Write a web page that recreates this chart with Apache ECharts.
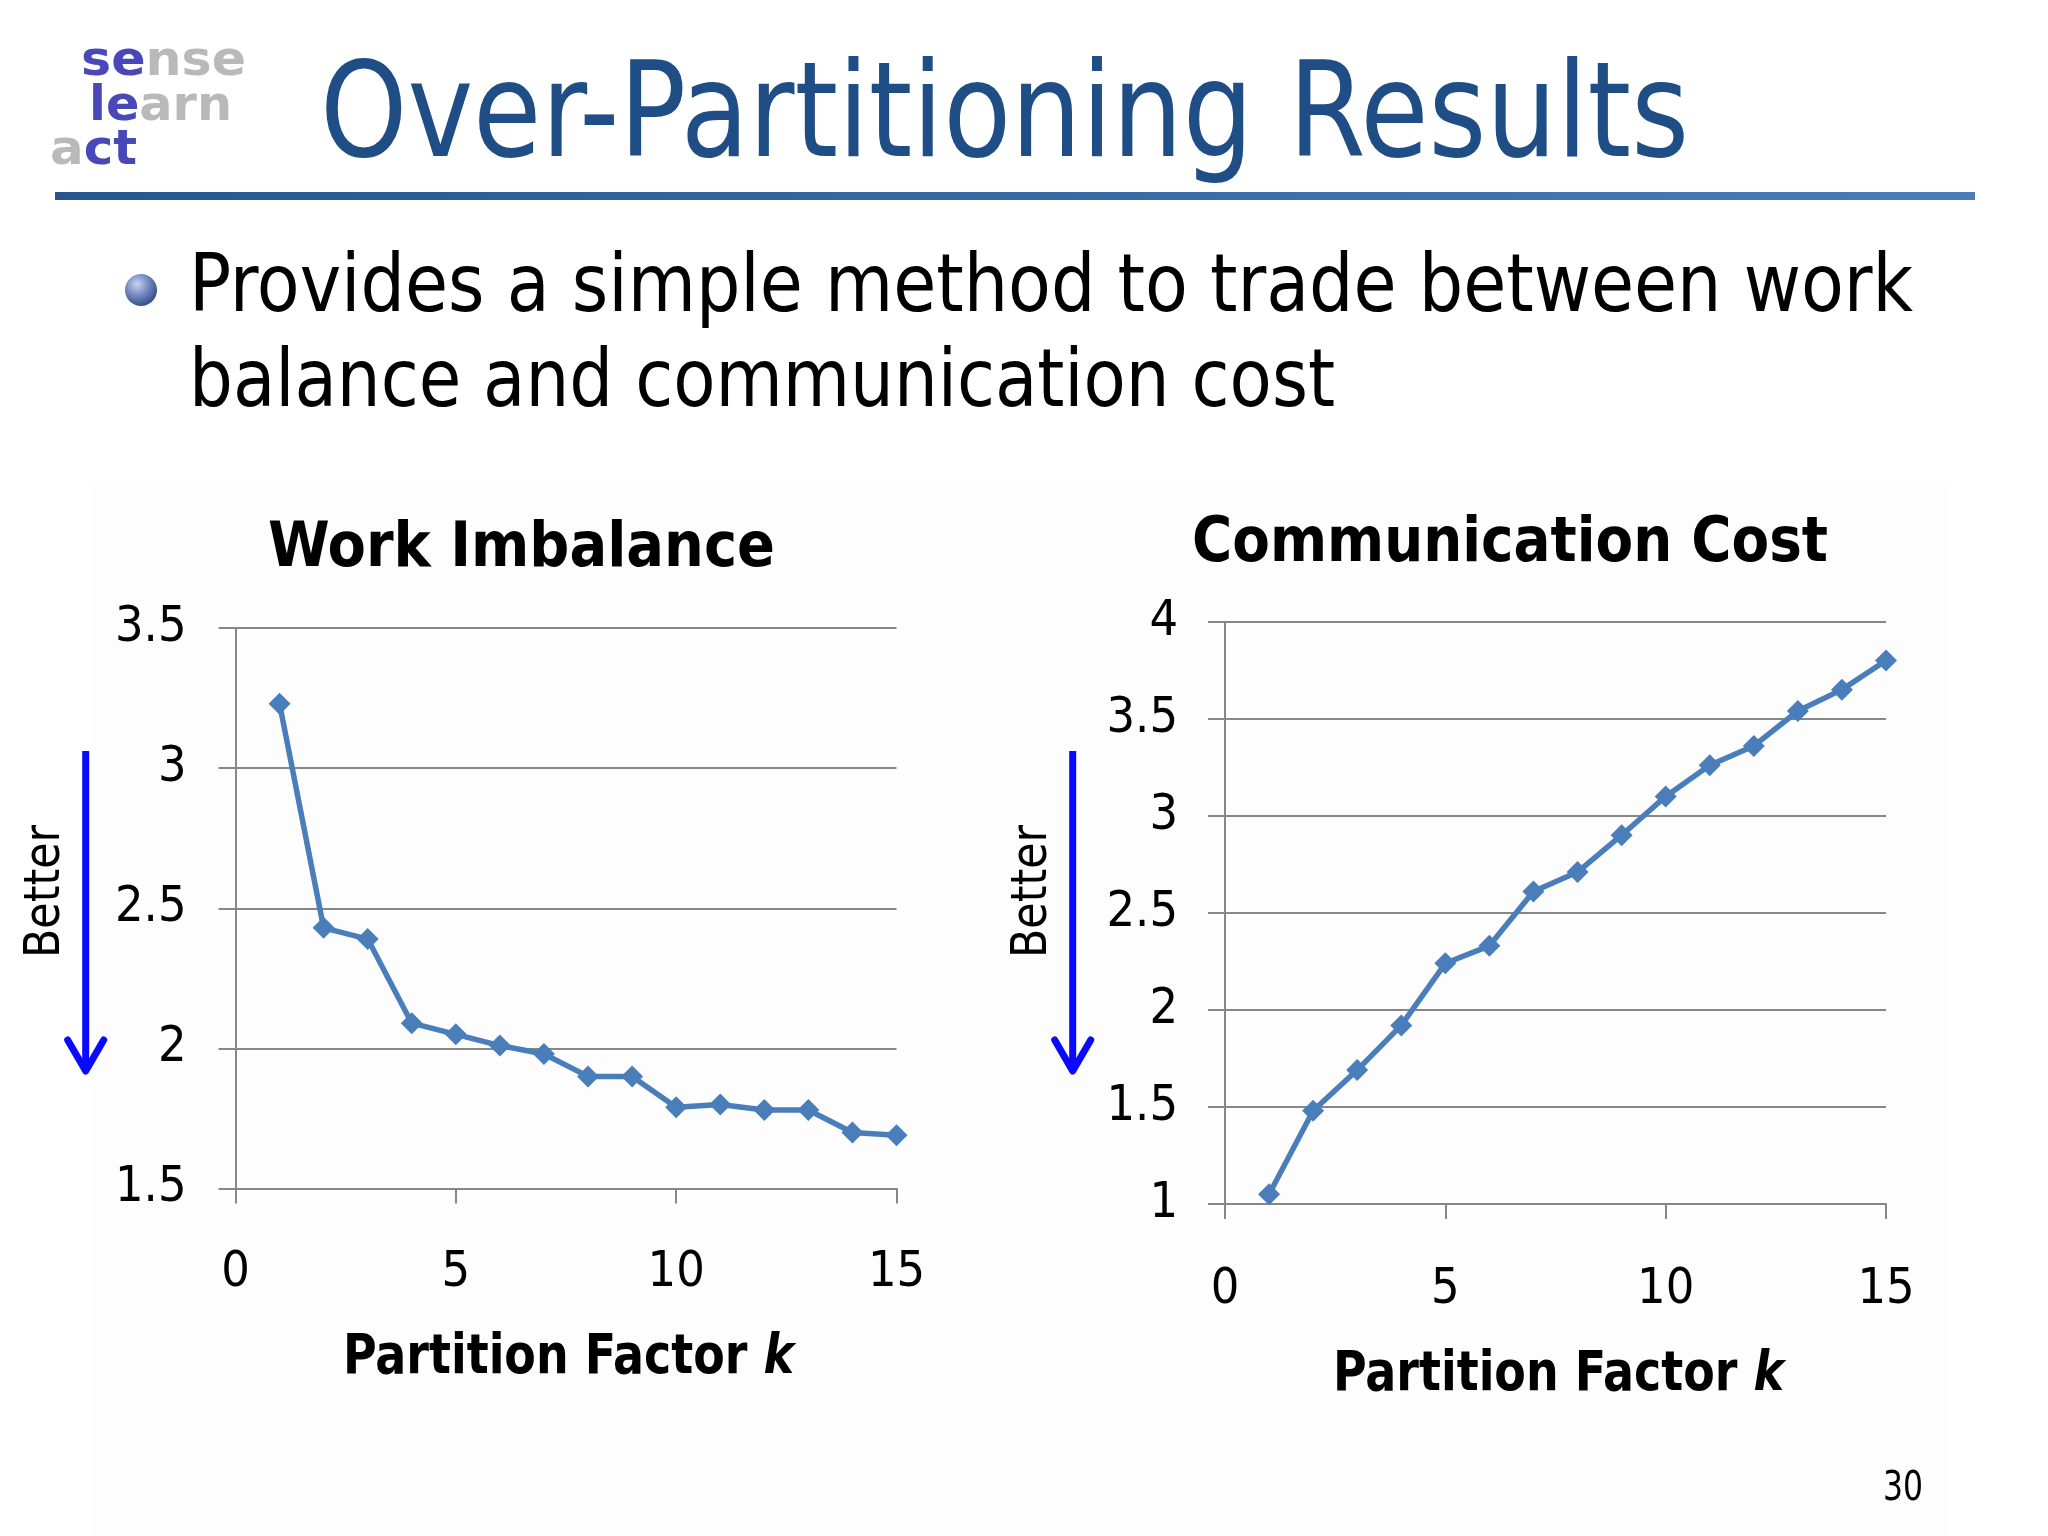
<!DOCTYPE html>
<html>
<head>
<meta charset="utf-8">
<script src="https://cdn.jsdelivr.net/npm/echarts@6/dist/echarts.min.js"></script>
<style>
html,body{margin:0;padding:0;background:#fff;}
#c{width:2048px;height:1536px;}
</style>
</head>
<body>
<div id="c"></div>
<script>
// ---- data ----
const kValues = [1, 2, 3, 4, 5, 6, 7, 8, 9, 10, 11, 12, 13, 14, 15];
const workImbalance = [3.23, 2.43, 2.39, 2.09, 2.05, 2.01, 1.98, 1.90, 1.90, 1.79, 1.80, 1.78, 1.78, 1.70, 1.69];
const commCost = [1.05, 1.48, 1.69, 1.92, 2.24, 2.33, 2.61, 2.71, 2.90, 3.10, 3.26, 3.36, 3.54, 3.65, 3.80];
const xTicks = [0, 5, 10, 15];
const leftYTicks = [1.5, 2, 2.5, 3, 3.5];
const rightYTicks = [1, 1.5, 2, 2.5, 3, 3.5, 4];
const slideTitle = 'Over-Partitioning Results';
const bulletLines = ['Provides a simple method to trade between work', 'balance and communication cost'];
const chartTitles = ['Work Imbalance', 'Communication Cost'];
const xAxisTitle = 'Partition Factor ';
const xAxisVar = 'k';
const betterLabel = 'Better';
const pageNumber = '30';

// ---- helpers ----
const FAM = '"DejaVu Sans Condensed", "DejaVu Sans", sans-serif';
const mctx = document.createElement('canvas').getContext('2d');
function measure(text, font) { mctx.font = font; return mctx.measureText(text).width; }
function fitText(text, font, left, cy, width, fill, extra) {
  const s = width / measure(text, font);
  return Object.assign({
    type: 'text', x: left, y: cy, scaleX: s,
    style: { text: text, font: font, fill: fill, align: 'left', verticalAlign: 'middle', textAlign: 'left', textVerticalAlign: 'middle' }
  }, extra || {});
}
function fitRich(parts, left, cy, width, fill) {
  let w = 0, txt = '', rich = {};
  parts.forEach((p, i) => { w += measure(p.t, p.font); txt += '{s' + i + '|' + p.t + '}'; rich['s' + i] = { font: p.font, fill: fill }; });
  return {
    type: 'text', x: left, y: cy, scaleX: width / w,
    style: { text: txt, rich: rich, fill: fill, align: 'left', verticalAlign: 'middle', textAlign: 'left', textVerticalAlign: 'middle' }
  };
}

const chart = echarts.init(document.getElementById('c'), null, { renderer: 'canvas' });

const axisGray = '#878787';
const lineBlue = '#4a7ebb';
const tickFont = { fontSize: 50, fontFamily: FAM, color: '#000' };

function yAxisCfg(idx, ticks, margin) {
  return {
    type: 'value', gridIndex: idx,
    min: ticks[0], max: ticks[ticks.length - 1], interval: 0.5,
    axisLine: { show: true, lineStyle: { color: axisGray, width: 2 } },
    axisTick: { show: true, length: 17, lineStyle: { color: axisGray, width: 2 } },
    splitLine: { show: true, lineStyle: { color: axisGray, width: 2 } },
    axisLabel: Object.assign({ margin: margin }, tickFont)
  };
}
function xAxisCfg(idx, margin) {
  return {
    type: 'value', gridIndex: idx,
    min: xTicks[0], max: xTicks[xTicks.length - 1], interval: 5,
    axisLine: { show: true, onZero: false, lineStyle: { color: axisGray, width: 2 } },
    axisTick: { show: true, length: 15, lineStyle: { color: axisGray, width: 2 } },
    splitLine: { show: false },
    axisLabel: Object.assign({ margin: margin }, tickFont)
  };
}
function seriesCfg(idx, vals) {
  return {
    type: 'line', xAxisIndex: idx, yAxisIndex: idx,
    data: kValues.map((k, i) => [k, vals[i]]),
    symbol: 'diamond', symbolSize: 22,
    lineStyle: { color: lineBlue, width: 5.5 },
    itemStyle: { color: lineBlue },
    animation: false
  };
}

const titleFont = '131px ' + FAM;
const bodyFont = '80px ' + FAM;
const boldTitle = 'bold 62px ' + FAM;
const axisNameFont = 'bold 56px ' + FAM;
const axisVarFont = 'italic bold 56px ' + FAM;
const betterFont = '50px ' + FAM;
const logoFont = 'bold 48px "DejaVu Sans", sans-serif';

function betterArrow(x, textX) {
  return [
    { type: 'line', shape: { x1: x, y1: 751, x2: x, y2: 1068 }, style: { stroke: '#0a0aff', lineWidth: 7 } },
    { type: 'polyline', shape: { points: [[x - 18, 1040], [x, 1071], [x + 18, 1040]] }, style: { stroke: '#0a0aff', lineWidth: 7, fill: null, lineCap: 'round', lineJoin: 'round' } },
    Object.assign(fitText(betterLabel, betterFont, 0, 0, 133, '#000'), { x: textX, y: 958, rotation: Math.PI / 2 })
  ];
}

const logoBlue = '#4848b8', logoGray = '#b9b9b9';
function logoRich(parts, left, cy, width) {
  let w = 0, txt = '', rich = {};
  parts.forEach((p, i) => { w += measure(p.t, logoFont); txt += '{s' + i + '|' + p.t + '}'; rich['s' + i] = { font: logoFont, fill: p.c }; });
  return { type: 'text', x: left, y: cy, scaleX: width / w,
    style: { text: txt, rich: rich, align: 'left', verticalAlign: 'middle', textAlign: 'left', textVerticalAlign: 'middle' } };
}

const graphics = [
  { type: 'rect', z: -10, shape: { x: 92, y: 483, width: 1856, height: 1053 }, style: { fill: '#fdfdfd' } },
  // logo
  logoRich([{ t: 'se', c: logoBlue }, { t: 'nse', c: logoGray }], 81, 63, 165),
  logoRich([{ t: 'le', c: logoBlue }, { t: 'arn', c: logoGray }], 89, 108, 143),
  logoRich([{ t: 'a', c: logoGray }, { t: 'ct', c: logoBlue }], 50, 152, 87),
  // slide title
  fitText(slideTitle, titleFont, 320, 122, 1369, '#1f4e86'),
  { type: 'rect', shape: { x: 55, y: 192, width: 1920, height: 8 },
    style: { fill: new echarts.graphic.LinearGradient(0, 0, 1, 0, [{ offset: 0, color: '#27558e' }, { offset: 1, color: '#4a7cb8' }]) } },
  // bullet
  { type: 'circle', shape: { cx: 141, cy: 290, r: 16 },
    style: { fill: new echarts.graphic.RadialGradient(0.38, 0.32, 0.75, [{ offset: 0, color: '#c8d2ec' }, { offset: 0.5, color: '#6f86c0' }, { offset: 1, color: '#2c447e' }]) } },
  fitText(bulletLines[0], bodyFont, 189, 290, 1724, '#000'),
  fitText(bulletLines[1], bodyFont, 189, 385, 1146, '#000'),
  // chart titles
  fitText(chartTitles[0], boldTitle, 268, 550, 507, '#000'),
  fitText(chartTitles[1], boldTitle, 1192, 545, 636, '#000'),
  // axis titles
  fitRich([{ t: xAxisTitle, font: axisNameFont }, { t: xAxisVar, font: axisVarFont }], 343, 1358, 451, '#000'),
  fitRich([{ t: xAxisTitle, font: axisNameFont }, { t: xAxisVar, font: axisVarFont }], 1333, 1375, 451, '#000'),
  // page number
  fitText(pageNumber, '40px ' + FAM, 1883, 1490, 40, '#000')
].concat(betterArrow(85.7, 46), betterArrow(1072.7, 1033));

chart.setOption({
  backgroundColor: '#ffffff',
  animation: false,
  grid: [
    { left: 235.5, top: 628, width: 661, height: 560.5 },
    { left: 1225, top: 621.7, width: 661, height: 582.3 }
  ],
  xAxis: [xAxisCfg(0, 60), xAxisCfg(1, 61)],
  yAxis: [yAxisCfg(0, leftYTicks, 49), yAxisCfg(1, rightYTicks, 47)],
  series: [seriesCfg(0, workImbalance), seriesCfg(1, commCost)],
  graphic: graphics
});
</script>
</body>
</html>
